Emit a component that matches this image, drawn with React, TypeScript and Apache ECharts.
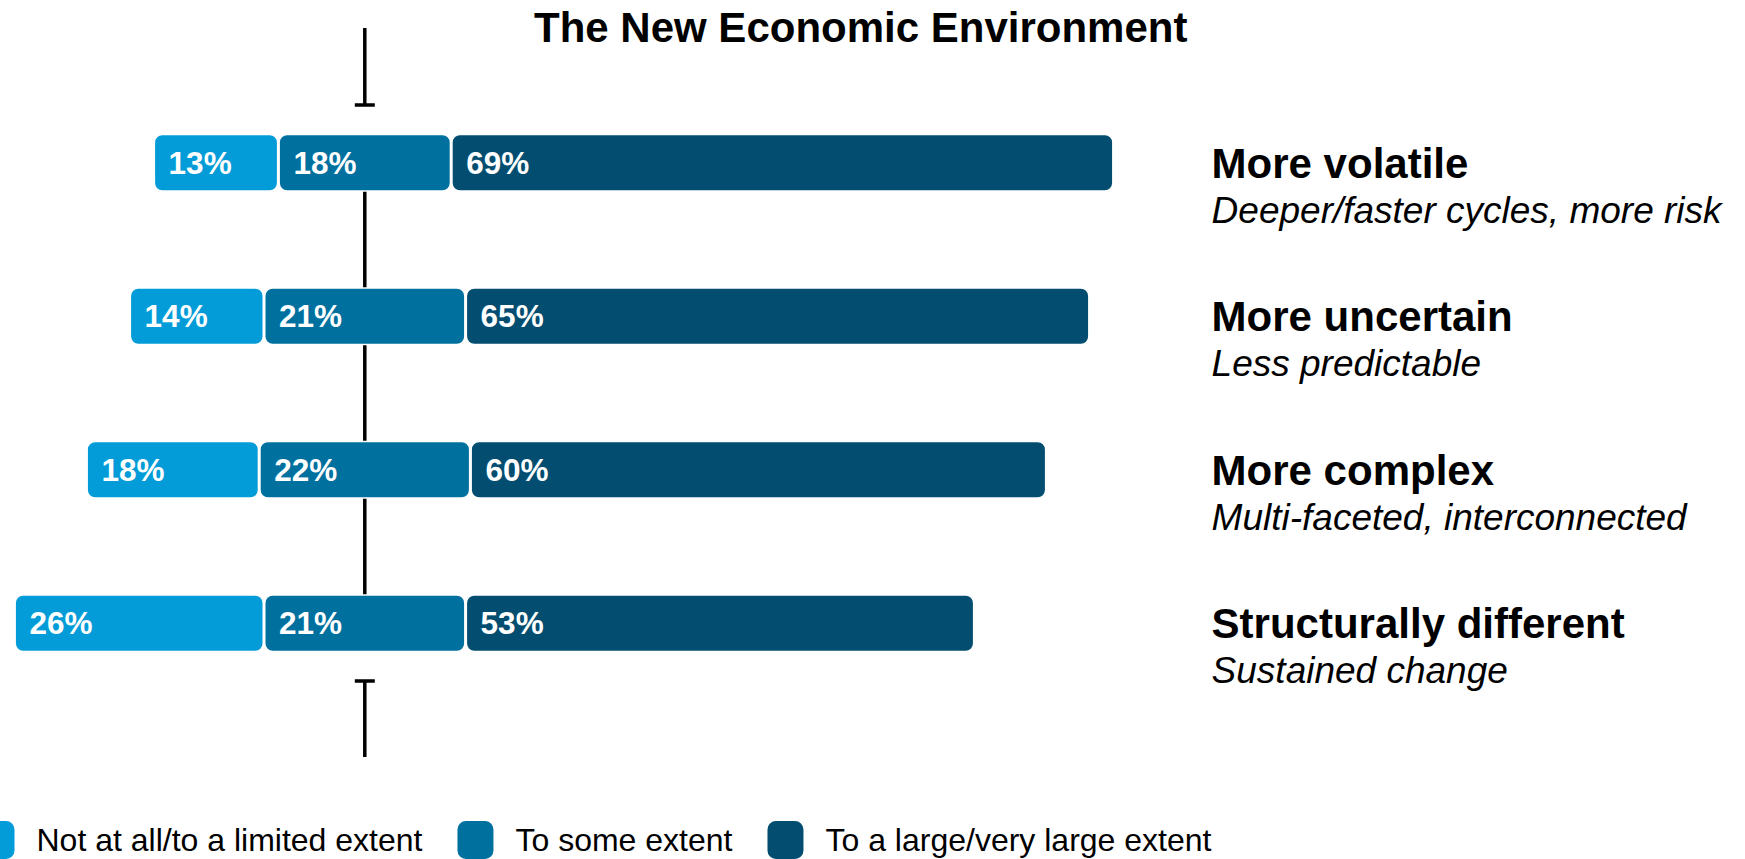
import React, { useEffect, useRef } from "react";
import * as echarts from "echarts";

const titleText = "The New Economic Environment";
const categories = ["More volatile", "More uncertain", "More complex", "Structurally different"];
const subtitles = [
  "Deeper/faster cycles, more risk",
  "Less predictable",
  "Multi-faceted, interconnected",
  "Sustained change",
];
const seriesNames = [
  "Not at all/to a limited extent",
  "To some extent",
  "To a large/very large extent",
];
const notAtAll = [13, 14, 18, 26];
const someExtent = [18, 21, 22, 21];
const largeExtent = [69, 65, 60, 53];
const colors = ["#039CD8", "#00709F", "#024D70"];

const FONT = "'Liberation Sans', Arial, Helvetica, sans-serif";

export default function App() {
  const ref = useRef<HTMLDivElement>(null);

  useEffect(() => {
    if (!ref.current) return;
    const chart = echarts.init(ref.current, undefined, { renderer: "svg" });

    // offset so that the middle category is centred on zero
    const offsets = notAtAll.map((v, i) => -(v + someExtent[i] / 2));

    const barLabel = {
      show: true,
      position: "insideLeft",
      distance: 15,
      color: "#fff",
      fontWeight: "bold",
      fontSize: 31.5,
      fontFamily: FONT,
      formatter: "{c}%",
    };
    const common = {
      type: "bar",
      stack: "total",
      stackStrategy: "all",
      barWidth: 58,
    };
    const seg = (name: string, data: number[], color: string) => ({
      ...common,
      name,
      data,
      z: 3,
      itemStyle: { color, borderRadius: 8, borderColor: "#fff", borderWidth: 1.5 },
      label: barLabel,
    });

    chart.setOption({
      animation: false,
      title: {
        text: titleText,
        left: 534,
        top: 6,
        padding: 0,
        textStyle: { fontSize: 42, fontWeight: "bold", color: "#000", fontFamily: FONT },
      },
      legend: {
        data: seriesNames,
        left: -23.5,
        top: 819,
        icon: "roundRect",
        itemWidth: 38,
        itemHeight: 40,
        itemGap: 33,
        padding: 0,
        textStyle: {
          fontSize: 32,
          lineHeight: 28,
          color: "#000",
          fontFamily: FONT,
          padding: [0, 0, 0, 16],
        },
      },
      grid: {
        left: 0,
        top: 86,
        width: 1209.6,
        height: 614,
        outerBoundsMode: "none",
      },
      xAxis: {
        type: "value",
        min: -38,
        max: 88,
        show: false,
      },
      yAxis: {
        type: "category",
        data: categories,
        inverse: true,
        position: "right",
        axisLine: { show: false },
        axisTick: { show: false },
        splitLine: { show: false },
        axisLabel: {
          margin: 2,
          align: "left",
          padding: [48, 0, 0, 0],
          formatter: (value: string, idx: number) => `{t|${value}}\n{s|${subtitles[idx]}}`,
          rich: {
            t: { fontSize: 42, fontWeight: "bold", color: "#000", fontFamily: FONT, lineHeight: 47 },
            s: { fontSize: 37, fontStyle: "italic", color: "#000", fontFamily: FONT, lineHeight: 47 },
          },
        },
      },
      series: [
        {
          ...common,
          name: "offset",
          data: offsets,
          silent: true,
          itemStyle: { color: "transparent" },
          label: { show: false },
        },
        seg(seriesNames[0], notAtAll, colors[0]),
        seg(seriesNames[1], someExtent, colors[1]),
        seg(seriesNames[2], largeExtent, colors[2]),
      ],
    });

    const cx = chart.convertToPixel({ xAxisIndex: 0 }, 0) as number;
    const yFirst = chart.convertToPixel({ yAxisIndex: 0 }, categories[0]) as number;
    const yLast = chart.convertToPixel({ yAxisIndex: 0 }, categories[categories.length - 1]) as number;
    const lineStyle = { stroke: "#000", lineWidth: 3.5 };
    chart.setOption({
      graphic: [
        { type: "line", z: 0, shape: { x1: cx, y1: yFirst, x2: cx, y2: yLast }, style: lineStyle },
        { type: "line", z: 0, shape: { x1: cx, y1: 28, x2: cx, y2: 105 }, style: lineStyle },
        { type: "line", z: 0, shape: { x1: cx - 10, y1: 105, x2: cx + 10, y2: 105 }, style: lineStyle },
        { type: "line", z: 0, shape: { x1: cx, y1: 681, x2: cx, y2: 757 }, style: lineStyle },
        { type: "line", z: 0, shape: { x1: cx - 10, y1: 681, x2: cx + 10, y2: 681 }, style: lineStyle },
      ],
    });

    return () => chart.dispose();
  }, []);

  return (
    <div
      ref={ref}
      style={{ position: "absolute", left: 0, top: 0, width: 1745, height: 859 }}
    />
  );
}
